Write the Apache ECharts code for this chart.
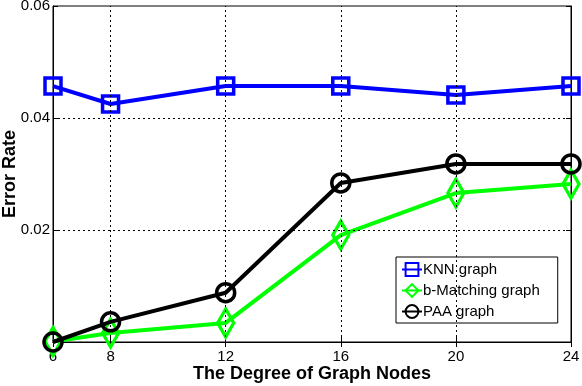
<!DOCTYPE html>
<html>
<head>
<meta charset="utf-8">
<script src="https://cdn.jsdelivr.net/npm/echarts@6/dist/echarts.min.js"></script>
<style>
  html, body { margin: 0; padding: 0; background: #fff; }
</style>
</head>
<body>
<div id="chart" style="width: 582px; height: 386px"></div>
<script>
// data
var degrees = [6, 8, 12, 16, 20, 24]
var knnRate = [0.0457, 0.0425, 0.0457, 0.0457, 0.0441, 0.0457]
var bMatchRate = [0.0001, 0.0016, 0.0034, 0.0191, 0.0266, 0.0282]
var paaRate = [0.0000, 0.0036, 0.0088, 0.0284, 0.0318, 0.0318]
var xTicks = [6, 8, 12, 16, 20, 24]
var xGrid = [8, 12, 16, 20]
var yGrid = [0.02, 0.04]

var font = 'Liberation Sans, Arial, Helvetica, sans-serif'

function pairs(ys) {
  return degrees.map(function (x, i) { return [x, ys[i]] })
}

var chart = echarts.init(document.getElementById('chart'))

// dotted grid drawn as mark lines so it only sits at the matlab ticks
var gridLines = {
  silent: true,
  symbol: 'none',
  label: { show: false },
  lineStyle: { color: '#000', width: 1, type: [2, 3] },
  data: xGrid.map(function (v) { return { xAxis: v } })
    .concat(yGrid.map(function (v) { return { yAxis: v } }))
}

var option = {
  backgroundColor: '#fff',
  animation: false,
  textStyle: { fontFamily: font },
  grid: {
    left: 53, right: 11, top: 6, bottom: 44,
    outerBoundsMode: 'none',
    containLabel: false,
    show: true, borderColor: '#000', borderWidth: 1, backgroundColor: '#fff'
  },
  legend: {
    orient: 'vertical',
    left: 396, top: 257,
    padding: [5, 18, 4, 5],
    backgroundColor: '#fff',
    borderColor: '#000',
    borderWidth: 1,
    itemWidth: 20,
    itemHeight: 16,
    itemGap: 6,
    textStyle: { fontSize: 15, color: '#000', fontFamily: font, padding: [0, 0, 0, -4] },
    data: ['KNN graph', 'b-Matching graph', 'PAA graph']
  },
  xAxis: [{
    type: 'value',
    min: 6, max: 24,
    name: 'The Degree of Graph Nodes',
    nameLocation: 'middle',
    nameMoveOverlap: false,
    nameGap: 23,
    nameTextStyle: { fontSize: 18, fontWeight: 'bold', color: '#000' },
    axisLine: { lineStyle: { color: '#000' } },
    axisTick: { inside: true, length: 5, customValues: xTicks, lineStyle: { color: '#000' } },
    axisLabel: { customValues: xTicks, margin: 7, fontSize: 15, color: '#000' },
    splitLine: { show: false }
  }, {
    type: 'value', position: 'top',
    min: 6, max: 24,
    axisLine: { lineStyle: { color: '#000' } },
    axisTick: { inside: true, length: 5, customValues: xTicks, lineStyle: { color: '#000' } },
    axisLabel: { show: false },
    splitLine: { show: false }
  }],
  yAxis: [{
    type: 'value',
    min: 0, max: 0.06, interval: 0.02,
    name: 'Error Rate',
    nameLocation: 'middle',
    nameMoveOverlap: false,
    nameGap: 34,
    nameTextStyle: { fontSize: 18, fontWeight: 'bold', color: '#000' },
    axisLine: { show: true, lineStyle: { color: '#000' } },
    axisTick: { show: true, inside: true, length: 5, lineStyle: { color: '#000' } },
    axisLabel: {
      margin: 3, fontSize: 15, color: '#000',
      formatter: function (v) { return v === 0 ? '' : v.toFixed(2) }
    },
    splitLine: { show: false }
  }, {
    type: 'value', position: 'right',
    min: 0, max: 0.06, interval: 0.02,
    axisLine: { show: true, lineStyle: { color: '#000' } },
    axisTick: { show: true, inside: true, length: 5, lineStyle: { color: '#000' } },
    axisLabel: { show: false },
    splitLine: { show: false }
  }],
  series: [{
    name: 'KNN graph',
    type: 'line',
    data: pairs(knnRate),
    symbol: 'rect',
    symbolSize: 16,
    lineStyle: { color: '#0000ff', width: 4 },
    itemStyle: { color: 'rgba(0,0,0,0)', borderColor: '#0000ff', borderWidth: 3.5 },
    markLine: gridLines,
    z: 3
  }, {
    name: 'b-Matching graph',
    type: 'line',
    data: pairs(bMatchRate),
    symbol: 'diamond',
    symbolSize: [16, 28],
    lineStyle: { color: '#00ff00', width: 4 },
    itemStyle: { color: 'rgba(0,0,0,0)', borderColor: '#00ff00', borderWidth: 3.5 },
    z: 4
  }, {
    name: 'PAA graph',
    type: 'line',
    data: pairs(paaRate),
    symbol: 'circle',
    symbolSize: 18,
    lineStyle: { color: '#000', width: 4 },
    itemStyle: { color: 'rgba(0,0,0,0)', borderColor: '#000', borderWidth: 3.5 },
    z: 5
  }]
}

option && chart.setOption(option)
</script>
</body>
</html>
